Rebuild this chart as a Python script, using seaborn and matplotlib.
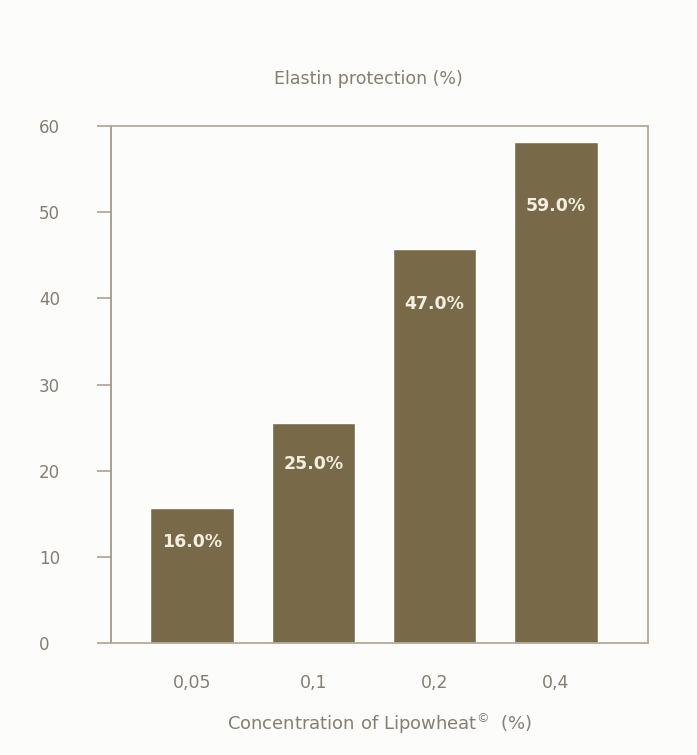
import matplotlib.pyplot as plt
import pandas as pd
import seaborn as sns

CONCENTRATIONS = ["0,05", "0,1", "0,2", "0,4"]
BAR_HEIGHTS = [15.7, 25.5, 45.7, 58.1]
BAR_LABELS = ["16.0%", "25.0%", "47.0%", "59.0%"]
Y_TICKS = [0, 10, 20, 30, 40, 50, 60]

BAR_COLOR = "#786a48"
SPINE_COLOR = "#b3aa98"
TEXT_COLOR = "#857e73"
BG_COLOR = "#fcfcfb"

sns.set_theme(style="white")
plt.rcParams["font.family"] = ["DejaVu Sans"]

df = pd.DataFrame({"Concentration": CONCENTRATIONS, "Protection": BAR_HEIGHTS})

fig = plt.figure(figsize=(6.97, 7.55), dpi=100, facecolor=BG_COLOR)
ax = fig.add_axes([0.1593, 0.1483, 0.7704, 0.6848])
ax.set_facecolor(BG_COLOR)

sns.barplot(data=df, x="Concentration", y="Protection", color=BAR_COLOR,
            saturation=1, width=0.69, ax=ax)

# labels inside the bars, a bit below the top
for bar, lbl in zip(ax.patches, BAR_LABELS):
    h = bar.get_height()
    ax.text(bar.get_x() + bar.get_width() / 2, 0.92 * h - 2.7, lbl,
            ha="center", va="center", color="#f3eedf", fontsize=12.5,
            fontweight="semibold")

ax.set_ylim(0, 60)
ax.set_xlim(-0.67, 3.76)
ax.set_yticks(Y_TICKS)

for side in ["left", "right", "top", "bottom"]:
    ax.spines[side].set_visible(True)
    ax.spines[side].set_color(SPINE_COLOR)
    ax.spines[side].set_linewidth(1.3)
ax.spines["left"].set_color("#a39a86")

ax.tick_params(axis="y", length=10, width=1.3, color=SPINE_COLOR, pad=42,
               labelsize=12, labelcolor=TEXT_COLOR, left=True)
for t in ax.get_yticklabels():
    t.set_ha("left")
ax.tick_params(axis="x", length=0, pad=22, labelsize=12.5, labelcolor=TEXT_COLOR)

ax.set_xlabel("Concentration of Lipowheat$^{©}$  (%)", fontsize=13,
              color=TEXT_COLOR, labelpad=14)
ax.set_ylabel("")
ax.set_title("Elastin protection (%)", fontsize=12.5, color=TEXT_COLOR,
             pad=30, x=0.48)

fig.savefig("out.png", dpi=100, facecolor=BG_COLOR)
